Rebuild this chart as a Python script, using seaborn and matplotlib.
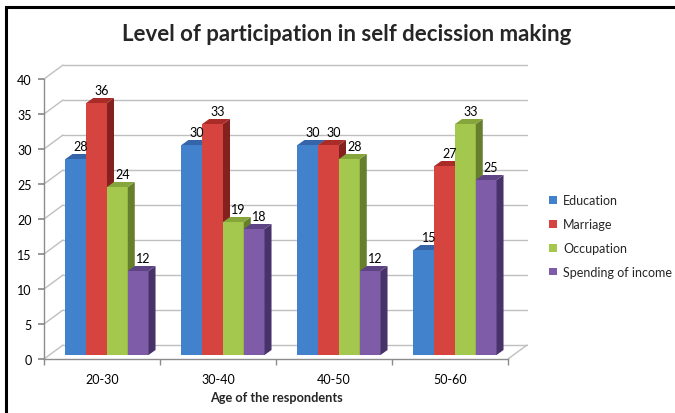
import matplotlib
matplotlib.use("Agg")
import matplotlib.pyplot as plt
from matplotlib.patches import Polygon, Rectangle
from matplotlib.transforms import offset_copy
import pandas as pd
import seaborn as sns

# ---- data ----
age_groups = ["20-30", "30-40", "40-50", "50-60"]
factors = ["Education", "Marriage", "Occupation", "Spending of income"]
education = [28, 30, 30, 15]
marriage = [36, 33, 30, 27]
occupation = [24, 19, 28, 33]
spending = [12, 18, 12, 25]

front_colors = ["#4282CD", "#D6443F", "#A4C74E", "#7F5CA8"]
side_colors = ["#2B5889", "#84201D", "#667F2C", "#47336A"]
top_colors = ["#3565A8", "#A92C28", "#86A53B", "#5F4485"]

rows = []
for factor, vals in zip(factors, [education, marriage, occupation, spending]):
    for age, v in zip(age_groups, vals):
        rows.append({"Age": age, "Factor": factor, "Value": v})
df = pd.DataFrame(rows)

sns.set_theme(style="white")
plt.rcParams["font.family"] = ["Lato", "DejaVu Sans"]

W, H, DPI = 675, 414, 100
fig = plt.figure(figsize=(W / DPI, H / DPI), dpi=DPI)
fig.patch.set_facecolor("white")

# axes = front plane of the floor / side wall
ax_l, ax_r, ax_b, ax_t = 44, 508, 360, 80
ax = fig.add_axes([ax_l / W, 1 - ax_b / H, (ax_r - ax_l) / W, (ax_b - ax_t) / H])
ax.patch.set_alpha(0)

sns.barplot(data=df, x="Age", y="Value", hue="Factor", palette=front_colors,
            saturation=1, width=0.716, errorbar=None, edgecolor="none",
            linewidth=0, ax=ax)

ax.set_xlim(-0.5, 3.5)
ax.set_ylim(0, 40)
sx = 4.0 / (ax_r - ax_l)      # data units per pixel (x)
sy = 40.0 / (ax_b - ax_t)     # data units per pixel (y)

grid_c = "#BFBFBF"
axis_c = "#8C8C8C"
fs = 9

# 3-D frame: back wall gridlines, side-wall diagonals, floor
bdx, bdy = 19, 14
for v in range(0, 41, 5):
    ax.plot([-0.5 + bdx * sx, 3.5 + bdx * sx], [v + bdy * sy, v + bdy * sy],
            color=grid_c, lw=1, clip_on=False, zorder=0.5)
    ax.plot([-0.5, -0.5 + bdx * sx], [v, v + bdy * sy],
            color=grid_c, lw=1, clip_on=False, zorder=0.5)
ax.plot([3.5, 3.5 + bdx * sx], [0, bdy * sy], color=grid_c, lw=1,
        clip_on=False, zorder=0.5)

# bars: push the fronts back into the box and give them depth
fdx, fdy = 5, 4      # front face offset (px)
ddx, ddy = 7, 5      # bar depth (px)
for i, cont in enumerate(ax.containers):
    z = 2 + i * 0.1
    for bar in cont:
        x0 = bar.get_x() + fdx * sx
        x1 = x0 + bar.get_width()
        h = bar.get_height()
        y0 = fdy * sy
        y1 = h + fdy * sy
        bar.set_transform(offset_copy(ax.transData, fig=fig, x=fdx, y=fdy, units="dots"))
        bar.set_zorder(z)
        bar.set_clip_on(False)
        side = Polygon([(x1, y0), (x1 + ddx * sx, y0 + ddy * sy),
                        (x1 + ddx * sx, y1 + ddy * sy), (x1, y1)],
                       closed=True, facecolor=side_colors[i], edgecolor="none",
                       zorder=z, clip_on=False)
        top = Polygon([(x0, y1), (x1, y1), (x1 + ddx * sx, y1 + ddy * sy),
                       (x0 + ddx * sx, y1 + ddy * sy)],
                      closed=True, facecolor=top_colors[i], edgecolor="none",
                      zorder=z, clip_on=False)
        ax.add_patch(side)
        ax.add_patch(top)
        ax.annotate(f"{h:g}", xy=((x0 + x1) / 2, h), xytext=(fdx, fdy + 13),
                    textcoords="offset pixels", ha="center", va="center",
                    fontsize=fs, color="black", zorder=5, annotation_clip=False)

# axes styling
for s in ["top", "right"]:
    ax.spines[s].set_visible(False)
for s in ["left", "bottom"]:
    ax.spines[s].set_color(axis_c)
    ax.spines[s].set_linewidth(1)
ax.set_yticks(range(0, 41, 5))
ax.set_xticks(range(4))
ax.set_xticks([-0.5, 0.5, 1.5, 2.5, 3.5], minor=True)
ax.tick_params(axis="y", length=4, color=axis_c, labelsize=fs, pad=5,
               left=True, labelcolor="black")
ax.tick_params(axis="x", which="major", length=0, labelsize=fs, pad=10,
               labelcolor="black")
ax.tick_params(axis="x", which="minor", length=4, color=axis_c, bottom=True)
ax.set_xlabel("")
ax.set_ylabel("")

fig.text(276 / W, 1 - 402 / H, "Age of the respondents", ha="center",
         va="baseline", fontsize=9.2, fontweight="bold")

fig.text(347 / W, 1 - 41 / H, "Level of participation in self decission making",
         ha="center", va="baseline", fontsize=16, fontweight="bold")

sns.move_legend(ax, loc="upper left", bbox_to_anchor=(538 / W, 1 - 184 / H),
                bbox_transform=fig.transFigure, frameon=False, title=None,
                fontsize=fs, handlelength=0.6, handleheight=0.6,
                handletextpad=0.5, labelspacing=0.95)

# outer frame
fig.add_artist(Rectangle((6.3 / W, -0.1), 1.2, 1 - 8.3 / H + 0.1,
                         transform=fig.transFigure, fill=False,
                         edgecolor="black", lw=2.2))

fig.savefig("out.png", dpi=DPI, facecolor="white")
